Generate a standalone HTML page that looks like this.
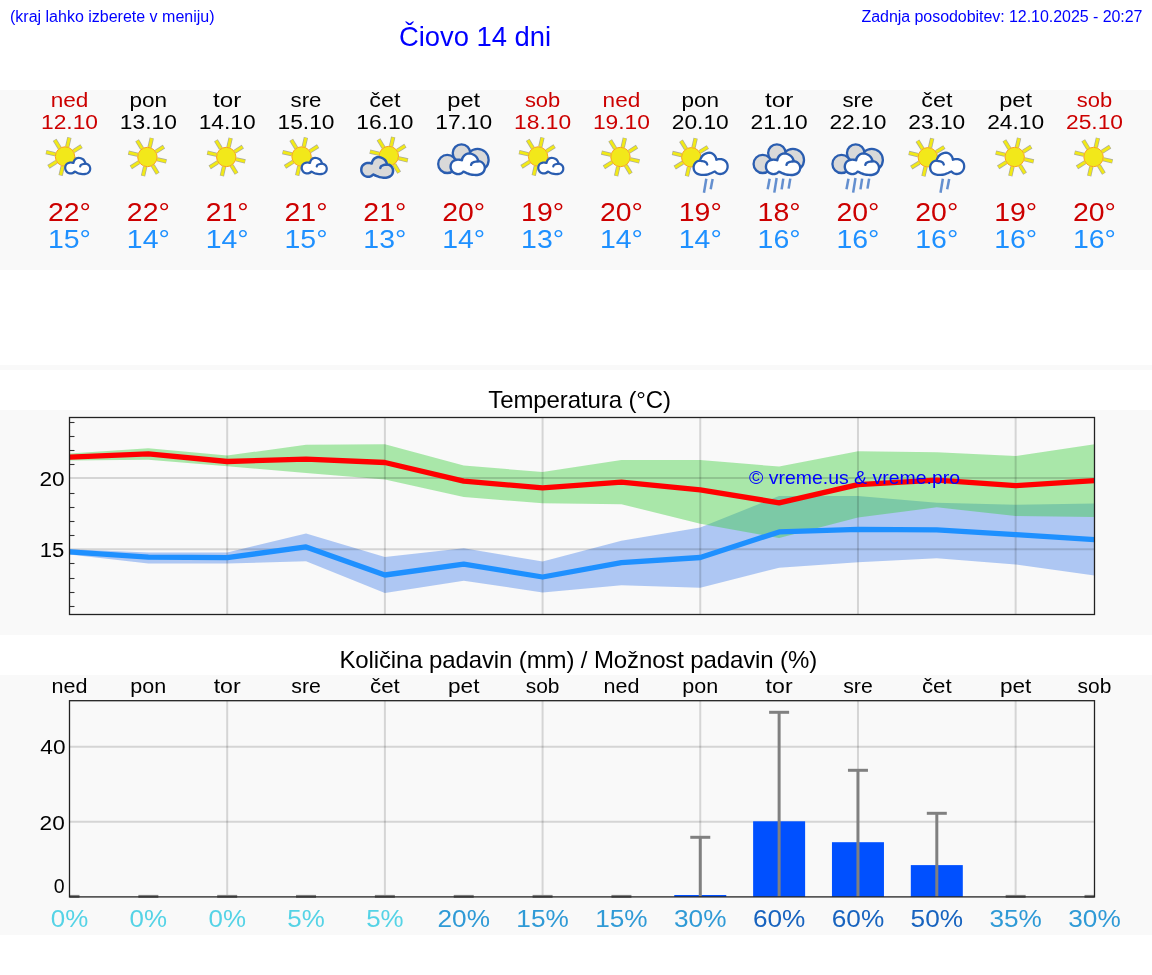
<!DOCTYPE html><html><head><meta charset="utf-8"><title>Čiovo 14 dni</title><style>
html,body{margin:0;padding:0;background:#fff;width:1152px;height:975px;overflow:hidden;font-family:"Liberation Sans",sans-serif}
svg{position:absolute;left:0;top:0;display:block;will-change:transform}
</style></head><body>
<svg width="1152" height="975" viewBox="0 0 1152 975" font-family="Liberation Sans, sans-serif">
<rect x="0" y="90" width="1152" height="180" fill="#f9f9f9"/>
<rect x="0" y="365" width="1152" height="5" fill="#f9f9f9"/>
<rect x="0" y="410" width="1152" height="225" fill="#f9f9f9"/>
<rect x="0" y="675" width="1152" height="260" fill="#f9f9f9"/>
<text x="10" y="21.5" font-size="16" fill="#0000ff">(kraj lahko izberete v meniju)</text>
<text x="399" y="45.7" font-size="27.4" fill="#0000ff" textLength="152" lengthAdjust="spacing">Čiovo 14 dni</text>
<text x="1142.5" y="21.5" font-size="16" fill="#0000ff" text-anchor="end" textLength="281" lengthAdjust="spacing">Zadnja posodobitev: 12.10.2025 - 20:27</text>
<text x="69.50" y="106.8" font-size="20.5" fill="#cc0000" text-anchor="middle" textLength="37.68" lengthAdjust="spacingAndGlyphs">ned</text>
<text x="69.50" y="128.6" font-size="20.5" fill="#cc0000" text-anchor="middle" textLength="57" lengthAdjust="spacingAndGlyphs">12.10</text>
<line x1="74.74" y1="158.75" x2="84.00" y2="160.89" stroke="#8c8c70" stroke-opacity="0.7" stroke-width="4.3"/><line x1="70.30" y1="164.98" x2="75.33" y2="173.04" stroke="#8c8c70" stroke-opacity="0.7" stroke-width="4.3"/><line x1="62.75" y1="166.24" x2="60.61" y2="175.50" stroke="#8c8c70" stroke-opacity="0.7" stroke-width="4.3"/><line x1="56.52" y1="161.80" x2="48.46" y2="166.83" stroke="#8c8c70" stroke-opacity="0.7" stroke-width="4.3"/><line x1="55.26" y1="154.25" x2="46.00" y2="152.11" stroke="#8c8c70" stroke-opacity="0.7" stroke-width="4.3"/><line x1="59.70" y1="148.02" x2="54.67" y2="139.96" stroke="#8c8c70" stroke-opacity="0.7" stroke-width="4.3"/><line x1="67.25" y1="146.76" x2="69.39" y2="137.50" stroke="#8c8c70" stroke-opacity="0.7" stroke-width="4.3"/><line x1="73.48" y1="151.20" x2="81.54" y2="146.17" stroke="#8c8c70" stroke-opacity="0.7" stroke-width="4.3"/><line x1="74.74" y1="158.75" x2="83.61" y2="160.80" stroke="#f2ea16" stroke-width="2.8"/><line x1="70.30" y1="164.98" x2="75.12" y2="172.70" stroke="#f2ea16" stroke-width="2.8"/><line x1="62.75" y1="166.24" x2="60.70" y2="175.11" stroke="#f2ea16" stroke-width="2.8"/><line x1="56.52" y1="161.80" x2="48.80" y2="166.62" stroke="#f2ea16" stroke-width="2.8"/><line x1="55.26" y1="154.25" x2="46.39" y2="152.20" stroke="#f2ea16" stroke-width="2.8"/><line x1="59.70" y1="148.02" x2="54.88" y2="140.30" stroke="#f2ea16" stroke-width="2.8"/><line x1="67.25" y1="146.76" x2="69.30" y2="137.89" stroke="#f2ea16" stroke-width="2.8"/><line x1="73.48" y1="151.20" x2="81.20" y2="146.38" stroke="#f2ea16" stroke-width="2.8"/><circle cx="65.00" cy="156.50" r="9.70" fill="#f2e81a" stroke="#f7a41c" stroke-width="1"/><path d="M74.64,171.58C74.29,171.83 73.37,172.81 72.56,173.11C71.75,173.41 70.66,173.53 69.78,173.39C68.90,173.25 67.97,172.84 67.28,172.28C66.59,171.72 65.96,170.85 65.61,170.06C65.26,169.27 65.14,168.39 65.19,167.56C65.24,166.73 65.50,165.75 65.89,165.06C66.28,164.37 66.91,163.81 67.56,163.39C68.21,162.97 69.04,162.69 69.78,162.56C70.52,162.43 71.38,162.53 72.00,162.60C72.62,162.67 73.25,162.93 73.50,163.00C73.57,162.69 73.63,161.80 73.94,161.17C74.25,160.54 74.73,159.75 75.33,159.22C75.93,158.69 76.82,158.18 77.56,157.97C78.30,157.76 79.04,157.83 79.78,157.97C80.52,158.11 81.31,158.42 82.00,158.81C82.69,159.20 83.43,159.75 83.94,160.33C84.45,160.91 84.81,161.72 85.06,162.28C85.31,162.84 85.40,163.44 85.47,163.67C85.72,163.71 86.47,163.71 87.00,163.94C87.53,164.17 88.18,164.55 88.67,165.06C89.16,165.57 89.67,166.31 89.92,167.00C90.17,167.69 90.26,168.48 90.19,169.22C90.12,169.96 89.89,170.79 89.50,171.44C89.11,172.09 88.48,172.69 87.83,173.11C87.18,173.53 86.49,173.78 85.61,173.94C84.73,174.10 83.58,174.12 82.56,174.08C81.54,174.03 80.43,173.90 79.50,173.67C78.57,173.44 77.81,173.04 77.00,172.69C76.19,172.34 75.03,171.76 74.64,171.58Z" fill="#ffffff" stroke="#2a5db0" stroke-width="2.2" stroke-linejoin="round"/><path d="M80.19,166.44C80.31,166.21 80.50,165.43 80.89,165.06C81.28,164.69 82.00,164.41 82.56,164.22C83.12,164.03 83.73,164.03 84.22,163.94C84.70,163.85 85.26,163.71 85.47,163.67" fill="none" stroke="#2a5db0" stroke-width="2.2" stroke-linecap="round"/>
<text x="69.50" y="221.3" font-size="25" fill="#cc0000" text-anchor="middle" textLength="43" lengthAdjust="spacingAndGlyphs">22°</text>
<text x="69.50" y="248.3" font-size="25" fill="#1e90ff" text-anchor="middle" textLength="43" lengthAdjust="spacingAndGlyphs">15°</text>
<text x="148.35" y="106.8" font-size="20.5" fill="#000" text-anchor="middle" textLength="37.61" lengthAdjust="spacingAndGlyphs">pon</text>
<text x="148.35" y="128.6" font-size="20.5" fill="#000" text-anchor="middle" textLength="57" lengthAdjust="spacingAndGlyphs">13.10</text>
<line x1="157.14" y1="159.25" x2="166.40" y2="161.39" stroke="#8c8c70" stroke-opacity="0.7" stroke-width="4.3"/><line x1="152.70" y1="165.48" x2="157.73" y2="173.54" stroke="#8c8c70" stroke-opacity="0.7" stroke-width="4.3"/><line x1="145.15" y1="166.74" x2="143.01" y2="176.00" stroke="#8c8c70" stroke-opacity="0.7" stroke-width="4.3"/><line x1="138.92" y1="162.30" x2="130.86" y2="167.33" stroke="#8c8c70" stroke-opacity="0.7" stroke-width="4.3"/><line x1="137.65" y1="154.75" x2="128.40" y2="152.61" stroke="#8c8c70" stroke-opacity="0.7" stroke-width="4.3"/><line x1="142.10" y1="148.52" x2="137.06" y2="140.46" stroke="#8c8c70" stroke-opacity="0.7" stroke-width="4.3"/><line x1="149.65" y1="147.26" x2="151.78" y2="138.00" stroke="#8c8c70" stroke-opacity="0.7" stroke-width="4.3"/><line x1="155.88" y1="151.70" x2="163.93" y2="146.67" stroke="#8c8c70" stroke-opacity="0.7" stroke-width="4.3"/><line x1="157.14" y1="159.25" x2="166.01" y2="161.30" stroke="#f2ea16" stroke-width="2.8"/><line x1="152.70" y1="165.48" x2="157.52" y2="173.20" stroke="#f2ea16" stroke-width="2.8"/><line x1="145.15" y1="166.74" x2="143.10" y2="175.61" stroke="#f2ea16" stroke-width="2.8"/><line x1="138.92" y1="162.30" x2="131.20" y2="167.12" stroke="#f2ea16" stroke-width="2.8"/><line x1="137.65" y1="154.75" x2="128.79" y2="152.70" stroke="#f2ea16" stroke-width="2.8"/><line x1="142.10" y1="148.52" x2="137.27" y2="140.80" stroke="#f2ea16" stroke-width="2.8"/><line x1="149.65" y1="147.26" x2="151.69" y2="138.39" stroke="#f2ea16" stroke-width="2.8"/><line x1="155.88" y1="151.70" x2="163.59" y2="146.88" stroke="#f2ea16" stroke-width="2.8"/><circle cx="147.40" cy="157.00" r="9.70" fill="#f2e81a" stroke="#f7a41c" stroke-width="1"/>
<text x="148.35" y="221.3" font-size="25" fill="#cc0000" text-anchor="middle" textLength="43" lengthAdjust="spacingAndGlyphs">22°</text>
<text x="148.35" y="248.3" font-size="25" fill="#1e90ff" text-anchor="middle" textLength="43" lengthAdjust="spacingAndGlyphs">14°</text>
<text x="227.19" y="106.8" font-size="20.5" fill="#000" text-anchor="middle" textLength="28.30" lengthAdjust="spacingAndGlyphs">tor</text>
<text x="227.19" y="128.6" font-size="20.5" fill="#000" text-anchor="middle" textLength="57" lengthAdjust="spacingAndGlyphs">14.10</text>
<line x1="235.99" y1="159.25" x2="245.24" y2="161.39" stroke="#8c8c70" stroke-opacity="0.7" stroke-width="4.3"/><line x1="231.54" y1="165.48" x2="236.58" y2="173.54" stroke="#8c8c70" stroke-opacity="0.7" stroke-width="4.3"/><line x1="223.99" y1="166.74" x2="221.86" y2="176.00" stroke="#8c8c70" stroke-opacity="0.7" stroke-width="4.3"/><line x1="217.76" y1="162.30" x2="209.71" y2="167.33" stroke="#8c8c70" stroke-opacity="0.7" stroke-width="4.3"/><line x1="216.50" y1="154.75" x2="207.24" y2="152.61" stroke="#8c8c70" stroke-opacity="0.7" stroke-width="4.3"/><line x1="220.94" y1="148.52" x2="215.91" y2="140.46" stroke="#8c8c70" stroke-opacity="0.7" stroke-width="4.3"/><line x1="228.49" y1="147.26" x2="230.63" y2="138.00" stroke="#8c8c70" stroke-opacity="0.7" stroke-width="4.3"/><line x1="234.72" y1="151.70" x2="242.78" y2="146.67" stroke="#8c8c70" stroke-opacity="0.7" stroke-width="4.3"/><line x1="235.99" y1="159.25" x2="244.85" y2="161.30" stroke="#f2ea16" stroke-width="2.8"/><line x1="231.54" y1="165.48" x2="236.36" y2="173.20" stroke="#f2ea16" stroke-width="2.8"/><line x1="223.99" y1="166.74" x2="221.95" y2="175.61" stroke="#f2ea16" stroke-width="2.8"/><line x1="217.76" y1="162.30" x2="210.04" y2="167.12" stroke="#f2ea16" stroke-width="2.8"/><line x1="216.50" y1="154.75" x2="207.63" y2="152.70" stroke="#f2ea16" stroke-width="2.8"/><line x1="220.94" y1="148.52" x2="216.12" y2="140.80" stroke="#f2ea16" stroke-width="2.8"/><line x1="228.49" y1="147.26" x2="230.54" y2="138.39" stroke="#f2ea16" stroke-width="2.8"/><line x1="234.72" y1="151.70" x2="242.44" y2="146.88" stroke="#f2ea16" stroke-width="2.8"/><circle cx="226.24" cy="157.00" r="9.70" fill="#f2e81a" stroke="#f7a41c" stroke-width="1"/>
<text x="227.19" y="221.3" font-size="25" fill="#cc0000" text-anchor="middle" textLength="43" lengthAdjust="spacingAndGlyphs">21°</text>
<text x="227.19" y="248.3" font-size="25" fill="#1e90ff" text-anchor="middle" textLength="43" lengthAdjust="spacingAndGlyphs">14°</text>
<text x="306.04" y="106.8" font-size="20.5" fill="#000" text-anchor="middle" textLength="30.95" lengthAdjust="spacingAndGlyphs">sre</text>
<text x="306.04" y="128.6" font-size="20.5" fill="#000" text-anchor="middle" textLength="57" lengthAdjust="spacingAndGlyphs">15.10</text>
<line x1="311.28" y1="158.75" x2="320.54" y2="160.89" stroke="#8c8c70" stroke-opacity="0.7" stroke-width="4.3"/><line x1="306.84" y1="164.98" x2="311.87" y2="173.04" stroke="#8c8c70" stroke-opacity="0.7" stroke-width="4.3"/><line x1="299.29" y1="166.24" x2="297.15" y2="175.50" stroke="#8c8c70" stroke-opacity="0.7" stroke-width="4.3"/><line x1="293.06" y1="161.80" x2="285.00" y2="166.83" stroke="#8c8c70" stroke-opacity="0.7" stroke-width="4.3"/><line x1="291.79" y1="154.25" x2="282.54" y2="152.11" stroke="#8c8c70" stroke-opacity="0.7" stroke-width="4.3"/><line x1="296.24" y1="148.02" x2="291.21" y2="139.96" stroke="#8c8c70" stroke-opacity="0.7" stroke-width="4.3"/><line x1="303.79" y1="146.76" x2="305.93" y2="137.50" stroke="#8c8c70" stroke-opacity="0.7" stroke-width="4.3"/><line x1="310.02" y1="151.20" x2="318.08" y2="146.17" stroke="#8c8c70" stroke-opacity="0.7" stroke-width="4.3"/><line x1="311.28" y1="158.75" x2="320.15" y2="160.80" stroke="#f2ea16" stroke-width="2.8"/><line x1="306.84" y1="164.98" x2="311.66" y2="172.70" stroke="#f2ea16" stroke-width="2.8"/><line x1="299.29" y1="166.24" x2="297.24" y2="175.11" stroke="#f2ea16" stroke-width="2.8"/><line x1="293.06" y1="161.80" x2="285.34" y2="166.62" stroke="#f2ea16" stroke-width="2.8"/><line x1="291.79" y1="154.25" x2="282.93" y2="152.20" stroke="#f2ea16" stroke-width="2.8"/><line x1="296.24" y1="148.02" x2="291.42" y2="140.30" stroke="#f2ea16" stroke-width="2.8"/><line x1="303.79" y1="146.76" x2="305.84" y2="137.89" stroke="#f2ea16" stroke-width="2.8"/><line x1="310.02" y1="151.20" x2="317.74" y2="146.38" stroke="#f2ea16" stroke-width="2.8"/><circle cx="301.54" cy="156.50" r="9.70" fill="#f2e81a" stroke="#f7a41c" stroke-width="1"/><path d="M311.18,171.58C310.83,171.83 309.91,172.81 309.10,173.11C308.29,173.41 307.20,173.53 306.32,173.39C305.44,173.25 304.51,172.84 303.82,172.28C303.12,171.72 302.50,170.85 302.15,170.06C301.80,169.27 301.68,168.39 301.73,167.56C301.78,166.73 302.03,165.75 302.43,165.06C302.82,164.37 303.45,163.81 304.10,163.39C304.75,162.97 305.58,162.69 306.32,162.56C307.06,162.43 307.92,162.53 308.54,162.60C309.16,162.67 309.79,162.93 310.04,163.00C310.11,162.69 310.17,161.80 310.48,161.17C310.78,160.54 311.27,159.75 311.87,159.22C312.47,158.69 313.36,158.18 314.10,157.97C314.84,157.76 315.58,157.83 316.32,157.97C317.06,158.11 317.85,158.42 318.54,158.81C319.23,159.20 319.97,159.75 320.48,160.33C320.99,160.91 321.34,161.72 321.60,162.28C321.85,162.84 321.94,163.44 322.01,163.67C322.26,163.71 323.01,163.71 323.54,163.94C324.07,164.17 324.72,164.55 325.21,165.06C325.70,165.57 326.21,166.31 326.46,167.00C326.71,167.69 326.80,168.48 326.73,169.22C326.66,169.96 326.43,170.79 326.04,171.44C325.65,172.09 325.02,172.69 324.37,173.11C323.72,173.53 323.03,173.78 322.15,173.94C321.27,174.10 320.12,174.12 319.10,174.08C318.08,174.03 316.97,173.90 316.04,173.67C315.11,173.44 314.35,173.04 313.54,172.69C312.73,172.34 311.57,171.76 311.18,171.58Z" fill="#ffffff" stroke="#2a5db0" stroke-width="2.2" stroke-linejoin="round"/><path d="M316.73,166.44C316.85,166.21 317.03,165.43 317.43,165.06C317.82,164.69 318.54,164.41 319.10,164.22C319.65,164.03 320.27,164.03 320.76,163.94C321.24,163.85 321.80,163.71 322.01,163.67" fill="none" stroke="#2a5db0" stroke-width="2.2" stroke-linecap="round"/>
<text x="306.04" y="221.3" font-size="25" fill="#cc0000" text-anchor="middle" textLength="43" lengthAdjust="spacingAndGlyphs">21°</text>
<text x="306.04" y="248.3" font-size="25" fill="#1e90ff" text-anchor="middle" textLength="43" lengthAdjust="spacingAndGlyphs">15°</text>
<text x="384.88" y="106.8" font-size="20.5" fill="#000" text-anchor="middle" textLength="31.14" lengthAdjust="spacingAndGlyphs">čet</text>
<text x="384.88" y="128.6" font-size="20.5" fill="#000" text-anchor="middle" textLength="57" lengthAdjust="spacingAndGlyphs">16.10</text>
<line x1="398.58" y1="158.25" x2="407.83" y2="160.39" stroke="#8c8c70" stroke-opacity="0.7" stroke-width="4.3"/><line x1="394.13" y1="164.48" x2="399.17" y2="172.54" stroke="#8c8c70" stroke-opacity="0.7" stroke-width="4.3"/><line x1="386.59" y1="165.74" x2="384.45" y2="175.00" stroke="#8c8c70" stroke-opacity="0.7" stroke-width="4.3"/><line x1="380.35" y1="161.30" x2="372.30" y2="166.33" stroke="#8c8c70" stroke-opacity="0.7" stroke-width="4.3"/><line x1="379.09" y1="153.75" x2="369.83" y2="151.61" stroke="#8c8c70" stroke-opacity="0.7" stroke-width="4.3"/><line x1="383.54" y1="147.52" x2="378.50" y2="139.46" stroke="#8c8c70" stroke-opacity="0.7" stroke-width="4.3"/><line x1="391.08" y1="146.26" x2="393.22" y2="137.00" stroke="#8c8c70" stroke-opacity="0.7" stroke-width="4.3"/><line x1="397.32" y1="150.70" x2="405.37" y2="145.67" stroke="#8c8c70" stroke-opacity="0.7" stroke-width="4.3"/><line x1="398.58" y1="158.25" x2="407.45" y2="160.30" stroke="#f2ea16" stroke-width="2.8"/><line x1="394.13" y1="164.48" x2="398.96" y2="172.20" stroke="#f2ea16" stroke-width="2.8"/><line x1="386.59" y1="165.74" x2="384.54" y2="174.61" stroke="#f2ea16" stroke-width="2.8"/><line x1="380.35" y1="161.30" x2="372.64" y2="166.12" stroke="#f2ea16" stroke-width="2.8"/><line x1="379.09" y1="153.75" x2="370.22" y2="151.70" stroke="#f2ea16" stroke-width="2.8"/><line x1="383.54" y1="147.52" x2="378.71" y2="139.80" stroke="#f2ea16" stroke-width="2.8"/><line x1="391.08" y1="146.26" x2="393.13" y2="137.39" stroke="#f2ea16" stroke-width="2.8"/><line x1="397.32" y1="150.70" x2="405.03" y2="145.88" stroke="#f2ea16" stroke-width="2.8"/><circle cx="388.83" cy="156.00" r="9.70" fill="#f2e81a" stroke="#f7a41c" stroke-width="1"/><path d="M373.29,174.47C372.85,174.79 371.67,176.03 370.65,176.41C369.62,176.79 368.23,176.94 367.12,176.77C366.00,176.59 364.82,176.06 363.94,175.36C363.06,174.65 362.26,173.54 361.82,172.54C361.38,171.54 361.23,170.42 361.29,169.36C361.35,168.30 361.67,167.07 362.17,166.19C362.68,165.30 363.47,164.59 364.30,164.07C365.12,163.54 366.18,163.18 367.12,163.01C368.06,162.84 369.15,162.97 369.93,163.06C370.72,163.16 371.52,163.49 371.84,163.57C371.93,163.18 372.01,162.05 372.40,161.25C372.79,160.45 373.40,159.45 374.16,158.77C374.93,158.09 376.05,157.45 377.00,157.18C377.94,156.92 378.88,157.00 379.82,157.18C380.76,157.36 381.75,157.75 382.63,158.25C383.52,158.75 384.45,159.44 385.10,160.18C385.75,160.91 386.20,161.95 386.52,162.66C386.84,163.36 386.95,164.13 387.04,164.42C387.37,164.48 388.31,164.47 388.98,164.76C389.66,165.06 390.49,165.54 391.11,166.19C391.72,166.83 392.37,167.77 392.69,168.65C393.01,169.53 393.12,170.53 393.04,171.47C392.95,172.41 392.66,173.47 392.16,174.29C391.66,175.11 390.86,175.88 390.04,176.41C389.22,176.94 388.33,177.26 387.22,177.46C386.10,177.67 384.64,177.70 383.35,177.64C382.05,177.58 380.64,177.42 379.46,177.12C378.28,176.83 377.31,176.32 376.28,175.88C375.26,175.43 373.79,174.70 373.29,174.47Z" fill="#d9d9d9" stroke="#2a5db0" stroke-width="2.5" stroke-linejoin="round"/><path d="M380.34,167.94C380.48,167.65 380.72,166.66 381.22,166.19C381.73,165.72 382.64,165.36 383.35,165.12C384.05,164.88 384.84,164.88 385.45,164.76C386.07,164.65 386.78,164.48 387.04,164.42" fill="none" stroke="#2a5db0" stroke-width="2.5" stroke-linecap="round"/>
<text x="384.88" y="221.3" font-size="25" fill="#cc0000" text-anchor="middle" textLength="43" lengthAdjust="spacingAndGlyphs">21°</text>
<text x="384.88" y="248.3" font-size="25" fill="#1e90ff" text-anchor="middle" textLength="43" lengthAdjust="spacingAndGlyphs">13°</text>
<text x="463.73" y="106.8" font-size="20.5" fill="#000" text-anchor="middle" textLength="32.84" lengthAdjust="spacingAndGlyphs">pet</text>
<text x="463.73" y="128.6" font-size="20.5" fill="#000" text-anchor="middle" textLength="57" lengthAdjust="spacingAndGlyphs">17.10</text>
<circle cx="477.53" cy="159.90" r="11.10" fill="#d9d9d9" stroke="#2a5db0" stroke-width="2.3"/><circle cx="447.28" cy="163.90" r="9.10" fill="#d9d9d9" stroke="#2a5db0" stroke-width="2.3"/><circle cx="461.48" cy="153.10" r="8.75" fill="#d9d9d9" stroke="#2a5db0" stroke-width="2.3"/><path d="M463.50,171.61C463.02,171.94 461.76,173.23 460.65,173.63C459.54,174.02 458.04,174.18 456.84,173.99C455.63,173.81 454.37,173.26 453.41,172.53C452.46,171.80 451.60,170.64 451.13,169.60C450.65,168.56 450.49,167.40 450.55,166.30C450.62,165.20 450.97,163.92 451.51,163.00C452.05,162.08 452.91,161.34 453.80,160.79C454.69,160.24 455.83,159.87 456.84,159.70C457.85,159.53 459.03,159.66 459.88,159.75C460.73,159.85 461.59,160.19 461.94,160.28C462.04,159.88 462.12,158.70 462.54,157.86C462.96,157.03 463.62,155.99 464.44,155.29C465.27,154.59 466.48,153.92 467.50,153.64C468.51,153.37 469.53,153.46 470.54,153.64C471.55,153.83 472.63,154.23 473.58,154.75C474.53,155.27 475.54,155.99 476.24,156.76C476.94,157.52 477.42,158.59 477.77,159.33C478.12,160.06 478.24,160.86 478.33,161.16C478.68,161.22 479.70,161.21 480.43,161.52C481.16,161.83 482.05,162.33 482.72,163.00C483.39,163.67 484.08,164.64 484.43,165.56C484.78,166.48 484.90,167.51 484.80,168.49C484.71,169.47 484.39,170.56 483.86,171.42C483.32,172.28 482.46,173.08 481.57,173.63C480.68,174.18 479.73,174.51 478.53,174.72C477.32,174.93 475.74,174.97 474.35,174.91C472.95,174.85 471.43,174.67 470.16,174.36C468.89,174.06 467.84,173.53 466.73,173.07C465.62,172.61 464.04,171.85 463.50,171.61Z" fill="#ffffff" stroke="#2a5db0" stroke-width="2.4" stroke-linejoin="round"/><path d="M471.10,164.82C471.26,164.52 471.52,163.49 472.06,163.00C472.60,162.51 473.59,162.14 474.35,161.89C475.11,161.64 475.96,161.64 476.62,161.52C477.29,161.40 478.05,161.22 478.33,161.16" fill="none" stroke="#2a5db0" stroke-width="2.4" stroke-linecap="round"/>
<text x="463.73" y="221.3" font-size="25" fill="#cc0000" text-anchor="middle" textLength="43" lengthAdjust="spacingAndGlyphs">20°</text>
<text x="463.73" y="248.3" font-size="25" fill="#1e90ff" text-anchor="middle" textLength="43" lengthAdjust="spacingAndGlyphs">14°</text>
<text x="542.58" y="106.8" font-size="20.5" fill="#cc0000" text-anchor="middle" textLength="35.35" lengthAdjust="spacingAndGlyphs">sob</text>
<text x="542.58" y="128.6" font-size="20.5" fill="#cc0000" text-anchor="middle" textLength="57" lengthAdjust="spacingAndGlyphs">18.10</text>
<line x1="547.82" y1="158.75" x2="557.08" y2="160.89" stroke="#8c8c70" stroke-opacity="0.7" stroke-width="4.3"/><line x1="543.38" y1="164.98" x2="548.41" y2="173.04" stroke="#8c8c70" stroke-opacity="0.7" stroke-width="4.3"/><line x1="535.83" y1="166.24" x2="533.69" y2="175.50" stroke="#8c8c70" stroke-opacity="0.7" stroke-width="4.3"/><line x1="529.60" y1="161.80" x2="521.54" y2="166.83" stroke="#8c8c70" stroke-opacity="0.7" stroke-width="4.3"/><line x1="528.33" y1="154.25" x2="519.08" y2="152.11" stroke="#8c8c70" stroke-opacity="0.7" stroke-width="4.3"/><line x1="532.78" y1="148.02" x2="527.74" y2="139.96" stroke="#8c8c70" stroke-opacity="0.7" stroke-width="4.3"/><line x1="540.33" y1="146.76" x2="542.46" y2="137.50" stroke="#8c8c70" stroke-opacity="0.7" stroke-width="4.3"/><line x1="546.56" y1="151.20" x2="554.61" y2="146.17" stroke="#8c8c70" stroke-opacity="0.7" stroke-width="4.3"/><line x1="547.82" y1="158.75" x2="556.69" y2="160.80" stroke="#f2ea16" stroke-width="2.8"/><line x1="543.38" y1="164.98" x2="548.20" y2="172.70" stroke="#f2ea16" stroke-width="2.8"/><line x1="535.83" y1="166.24" x2="533.78" y2="175.11" stroke="#f2ea16" stroke-width="2.8"/><line x1="529.60" y1="161.80" x2="521.88" y2="166.62" stroke="#f2ea16" stroke-width="2.8"/><line x1="528.33" y1="154.25" x2="519.47" y2="152.20" stroke="#f2ea16" stroke-width="2.8"/><line x1="532.78" y1="148.02" x2="527.96" y2="140.30" stroke="#f2ea16" stroke-width="2.8"/><line x1="540.33" y1="146.76" x2="542.37" y2="137.89" stroke="#f2ea16" stroke-width="2.8"/><line x1="546.56" y1="151.20" x2="554.27" y2="146.38" stroke="#f2ea16" stroke-width="2.8"/><circle cx="538.08" cy="156.50" r="9.70" fill="#f2e81a" stroke="#f7a41c" stroke-width="1"/><path d="M547.72,171.58C547.37,171.83 546.45,172.81 545.64,173.11C544.83,173.41 543.74,173.53 542.86,173.39C541.98,173.25 541.05,172.84 540.36,172.28C539.66,171.72 539.04,170.85 538.69,170.06C538.34,169.27 538.22,168.39 538.27,167.56C538.31,166.73 538.57,165.75 538.97,165.06C539.36,164.37 539.99,163.81 540.64,163.39C541.29,162.97 542.12,162.69 542.86,162.56C543.60,162.43 544.46,162.53 545.08,162.60C545.70,162.67 546.33,162.93 546.58,163.00C546.65,162.69 546.71,161.80 547.02,161.17C547.32,160.54 547.80,159.75 548.41,159.22C549.01,158.69 549.90,158.18 550.64,157.97C551.38,157.76 552.12,157.83 552.86,157.97C553.60,158.11 554.38,158.42 555.08,158.81C555.77,159.20 556.51,159.75 557.02,160.33C557.53,160.91 557.88,161.72 558.14,162.28C558.39,162.84 558.48,163.44 558.55,163.67C558.80,163.71 559.54,163.71 560.08,163.94C560.61,164.17 561.26,164.55 561.75,165.06C562.23,165.57 562.74,166.31 563.00,167.00C563.25,167.69 563.34,168.48 563.27,169.22C563.20,169.96 562.97,170.79 562.58,171.44C562.18,172.09 561.56,172.69 560.91,173.11C560.26,173.53 559.57,173.78 558.69,173.94C557.81,174.10 556.66,174.12 555.64,174.08C554.62,174.03 553.50,173.90 552.58,173.67C551.65,173.44 550.89,173.04 550.08,172.69C549.27,172.34 548.11,171.76 547.72,171.58Z" fill="#ffffff" stroke="#2a5db0" stroke-width="2.2" stroke-linejoin="round"/><path d="M553.27,166.44C553.38,166.21 553.57,165.43 553.97,165.06C554.36,164.69 555.08,164.41 555.64,164.22C556.19,164.03 556.81,164.03 557.30,163.94C557.78,163.85 558.34,163.71 558.55,163.67" fill="none" stroke="#2a5db0" stroke-width="2.2" stroke-linecap="round"/>
<text x="542.58" y="221.3" font-size="25" fill="#cc0000" text-anchor="middle" textLength="43" lengthAdjust="spacingAndGlyphs">19°</text>
<text x="542.58" y="248.3" font-size="25" fill="#1e90ff" text-anchor="middle" textLength="43" lengthAdjust="spacingAndGlyphs">13°</text>
<text x="621.42" y="106.8" font-size="20.5" fill="#cc0000" text-anchor="middle" textLength="37.68" lengthAdjust="spacingAndGlyphs">ned</text>
<text x="621.42" y="128.6" font-size="20.5" fill="#cc0000" text-anchor="middle" textLength="57" lengthAdjust="spacingAndGlyphs">19.10</text>
<line x1="630.22" y1="159.25" x2="639.47" y2="161.39" stroke="#8c8c70" stroke-opacity="0.7" stroke-width="4.3"/><line x1="625.77" y1="165.48" x2="630.81" y2="173.54" stroke="#8c8c70" stroke-opacity="0.7" stroke-width="4.3"/><line x1="618.22" y1="166.74" x2="616.09" y2="176.00" stroke="#8c8c70" stroke-opacity="0.7" stroke-width="4.3"/><line x1="611.99" y1="162.30" x2="603.94" y2="167.33" stroke="#8c8c70" stroke-opacity="0.7" stroke-width="4.3"/><line x1="610.73" y1="154.75" x2="601.47" y2="152.61" stroke="#8c8c70" stroke-opacity="0.7" stroke-width="4.3"/><line x1="615.17" y1="148.52" x2="610.14" y2="140.46" stroke="#8c8c70" stroke-opacity="0.7" stroke-width="4.3"/><line x1="622.72" y1="147.26" x2="624.86" y2="138.00" stroke="#8c8c70" stroke-opacity="0.7" stroke-width="4.3"/><line x1="628.95" y1="151.70" x2="637.01" y2="146.67" stroke="#8c8c70" stroke-opacity="0.7" stroke-width="4.3"/><line x1="630.22" y1="159.25" x2="639.08" y2="161.30" stroke="#f2ea16" stroke-width="2.8"/><line x1="625.77" y1="165.48" x2="630.59" y2="173.20" stroke="#f2ea16" stroke-width="2.8"/><line x1="618.22" y1="166.74" x2="616.18" y2="175.61" stroke="#f2ea16" stroke-width="2.8"/><line x1="611.99" y1="162.30" x2="604.28" y2="167.12" stroke="#f2ea16" stroke-width="2.8"/><line x1="610.73" y1="154.75" x2="601.86" y2="152.70" stroke="#f2ea16" stroke-width="2.8"/><line x1="615.17" y1="148.52" x2="610.35" y2="140.80" stroke="#f2ea16" stroke-width="2.8"/><line x1="622.72" y1="147.26" x2="624.77" y2="138.39" stroke="#f2ea16" stroke-width="2.8"/><line x1="628.95" y1="151.70" x2="636.67" y2="146.88" stroke="#f2ea16" stroke-width="2.8"/><circle cx="620.47" cy="157.00" r="9.70" fill="#f2e81a" stroke="#f7a41c" stroke-width="1"/>
<text x="621.42" y="221.3" font-size="25" fill="#cc0000" text-anchor="middle" textLength="43" lengthAdjust="spacingAndGlyphs">20°</text>
<text x="621.42" y="248.3" font-size="25" fill="#1e90ff" text-anchor="middle" textLength="43" lengthAdjust="spacingAndGlyphs">14°</text>
<text x="700.27" y="106.8" font-size="20.5" fill="#000" text-anchor="middle" textLength="37.61" lengthAdjust="spacingAndGlyphs">pon</text>
<text x="700.27" y="128.6" font-size="20.5" fill="#000" text-anchor="middle" textLength="57" lengthAdjust="spacingAndGlyphs">20.10</text>
<line x1="701.01" y1="159.55" x2="710.27" y2="161.69" stroke="#8c8c70" stroke-opacity="0.7" stroke-width="4.3"/><line x1="696.57" y1="165.78" x2="701.60" y2="173.84" stroke="#8c8c70" stroke-opacity="0.7" stroke-width="4.3"/><line x1="689.02" y1="167.04" x2="686.88" y2="176.30" stroke="#8c8c70" stroke-opacity="0.7" stroke-width="4.3"/><line x1="682.79" y1="162.60" x2="674.73" y2="167.63" stroke="#8c8c70" stroke-opacity="0.7" stroke-width="4.3"/><line x1="681.53" y1="155.05" x2="672.27" y2="152.91" stroke="#8c8c70" stroke-opacity="0.7" stroke-width="4.3"/><line x1="685.97" y1="148.82" x2="680.94" y2="140.76" stroke="#8c8c70" stroke-opacity="0.7" stroke-width="4.3"/><line x1="693.52" y1="147.56" x2="695.66" y2="138.30" stroke="#8c8c70" stroke-opacity="0.7" stroke-width="4.3"/><line x1="699.75" y1="152.00" x2="707.81" y2="146.97" stroke="#8c8c70" stroke-opacity="0.7" stroke-width="4.3"/><line x1="701.01" y1="159.55" x2="709.88" y2="161.60" stroke="#f2ea16" stroke-width="2.8"/><line x1="696.57" y1="165.78" x2="701.39" y2="173.50" stroke="#f2ea16" stroke-width="2.8"/><line x1="689.02" y1="167.04" x2="686.97" y2="175.91" stroke="#f2ea16" stroke-width="2.8"/><line x1="682.79" y1="162.60" x2="675.07" y2="167.42" stroke="#f2ea16" stroke-width="2.8"/><line x1="681.53" y1="155.05" x2="672.66" y2="153.00" stroke="#f2ea16" stroke-width="2.8"/><line x1="685.97" y1="148.82" x2="681.15" y2="141.10" stroke="#f2ea16" stroke-width="2.8"/><line x1="693.52" y1="147.56" x2="695.57" y2="138.69" stroke="#f2ea16" stroke-width="2.8"/><line x1="699.75" y1="152.00" x2="707.47" y2="147.18" stroke="#f2ea16" stroke-width="2.8"/><circle cx="691.27" cy="157.30" r="9.70" fill="#f2e81a" stroke="#f7a41c" stroke-width="1"/><path d="M714.78,171.43C715.25,171.78 716.51,173.10 717.61,173.51C718.71,173.92 720.19,174.08 721.39,173.89C722.59,173.70 723.84,173.14 724.79,172.38C725.73,171.63 726.59,170.43 727.06,169.36C727.53,168.29 727.69,167.09 727.63,165.96C727.57,164.83 727.22,163.51 726.68,162.56C726.14,161.62 725.29,160.86 724.41,160.29C723.53,159.72 722.39,159.34 721.39,159.16C720.38,158.98 719.21,159.12 718.37,159.22C717.53,159.32 716.67,159.67 716.33,159.76C716.23,159.35 716.15,158.13 715.73,157.27C715.32,156.41 714.66,155.34 713.84,154.62C713.02,153.89 711.82,153.20 710.81,152.92C709.80,152.64 708.79,152.73 707.79,152.92C706.78,153.11 705.71,153.53 704.77,154.06C703.83,154.60 702.82,155.34 702.13,156.13C701.44,156.92 700.95,158.02 700.61,158.78C700.26,159.54 700.14,160.36 700.05,160.67C699.70,160.73 698.69,160.72 697.97,161.04C697.24,161.35 696.36,161.87 695.70,162.56C695.04,163.26 694.34,164.26 694.00,165.20C693.65,166.14 693.54,167.21 693.63,168.22C693.73,169.23 694.03,170.36 694.57,171.24C695.10,172.12 695.96,172.94 696.84,173.51C697.72,174.08 698.67,174.42 699.86,174.64C701.05,174.86 702.62,174.89 704.01,174.83C705.39,174.77 706.91,174.59 708.17,174.27C709.43,173.96 710.47,173.41 711.57,172.94C712.67,172.46 714.24,171.68 714.78,171.43Z" fill="#ffffff" stroke="#2a5db0" stroke-width="2.3" stroke-linejoin="round"/><path d="M707.23,164.44C707.07,164.13 706.82,163.06 706.28,162.56C705.74,162.06 704.76,161.67 704.01,161.42C703.25,161.17 702.41,161.16 701.75,161.04C701.09,160.91 700.33,160.73 700.05,160.67" fill="none" stroke="#2a5db0" stroke-width="2.3" stroke-linecap="round"/><line x1="706.30" y1="178.67" x2="703.97" y2="192.67" stroke="#4a7cc8" stroke-width="2.5" stroke-opacity="0.85"/><line x1="712.64" y1="179.00" x2="710.64" y2="189.33" stroke="#4a7cc8" stroke-width="2.5" stroke-opacity="0.85"/>
<text x="700.27" y="221.3" font-size="25" fill="#cc0000" text-anchor="middle" textLength="43" lengthAdjust="spacingAndGlyphs">19°</text>
<text x="700.27" y="248.3" font-size="25" fill="#1e90ff" text-anchor="middle" textLength="43" lengthAdjust="spacingAndGlyphs">14°</text>
<text x="779.12" y="106.8" font-size="20.5" fill="#000" text-anchor="middle" textLength="28.30" lengthAdjust="spacingAndGlyphs">tor</text>
<text x="779.12" y="128.6" font-size="20.5" fill="#000" text-anchor="middle" textLength="57" lengthAdjust="spacingAndGlyphs">21.10</text>
<circle cx="792.92" cy="159.90" r="11.10" fill="#d9d9d9" stroke="#2a5db0" stroke-width="2.3"/><circle cx="762.67" cy="163.90" r="9.10" fill="#d9d9d9" stroke="#2a5db0" stroke-width="2.3"/><circle cx="776.87" cy="153.10" r="8.75" fill="#d9d9d9" stroke="#2a5db0" stroke-width="2.3"/><path d="M778.88,171.61C778.41,171.94 777.14,173.23 776.03,173.63C774.92,174.02 773.43,174.18 772.22,173.99C771.02,173.81 769.75,173.26 768.80,172.53C767.85,171.80 766.99,170.64 766.51,169.60C766.03,168.56 765.87,167.40 765.94,166.30C766.00,165.20 766.35,163.92 766.89,163.00C767.44,162.08 768.29,161.34 769.18,160.79C770.07,160.24 771.21,159.87 772.22,159.70C773.24,159.53 774.42,159.66 775.27,159.75C776.11,159.85 776.98,160.19 777.32,160.28C777.42,159.88 777.51,158.70 777.92,157.86C778.34,157.03 779.00,155.99 779.83,155.29C780.65,154.59 781.87,153.92 782.88,153.64C783.90,153.37 784.91,153.46 785.92,153.64C786.94,153.83 788.02,154.23 788.97,154.75C789.92,155.27 790.92,155.99 791.62,156.76C792.32,157.52 792.81,158.59 793.16,159.33C793.51,160.06 793.63,160.86 793.72,161.16C794.07,161.22 795.08,161.21 795.82,161.52C796.55,161.83 797.44,162.33 798.10,163.00C798.77,163.67 799.47,164.64 799.82,165.56C800.16,166.48 800.28,167.51 800.19,168.49C800.09,169.47 799.78,170.56 799.24,171.42C798.70,172.28 797.84,173.08 796.95,173.63C796.06,174.18 795.11,174.51 793.91,174.72C792.71,174.93 791.13,174.97 789.73,174.91C788.34,174.85 786.81,174.67 785.54,174.36C784.27,174.06 783.23,173.53 782.12,173.07C781.01,172.61 779.42,171.85 778.88,171.61Z" fill="#ffffff" stroke="#2a5db0" stroke-width="2.4" stroke-linejoin="round"/><path d="M786.49,164.82C786.65,164.52 786.90,163.49 787.44,163.00C787.99,162.51 788.97,162.14 789.73,161.89C790.49,161.64 791.34,161.64 792.01,161.52C792.67,161.40 793.43,161.22 793.72,161.16" fill="none" stroke="#2a5db0" stroke-width="2.4" stroke-linecap="round"/><line x1="769.64" y1="178.67" x2="767.64" y2="189.33" stroke="#4a7cc8" stroke-width="2.5" stroke-opacity="0.85"/><line x1="776.64" y1="178.00" x2="774.30" y2="192.67" stroke="#4a7cc8" stroke-width="2.5" stroke-opacity="0.85"/><line x1="783.30" y1="178.67" x2="781.64" y2="189.33" stroke="#4a7cc8" stroke-width="2.5" stroke-opacity="0.85"/><line x1="790.30" y1="178.67" x2="788.64" y2="188.67" stroke="#4a7cc8" stroke-width="2.5" stroke-opacity="0.85"/>
<text x="779.12" y="221.3" font-size="25" fill="#cc0000" text-anchor="middle" textLength="43" lengthAdjust="spacingAndGlyphs">18°</text>
<text x="779.12" y="248.3" font-size="25" fill="#1e90ff" text-anchor="middle" textLength="43" lengthAdjust="spacingAndGlyphs">16°</text>
<text x="857.96" y="106.8" font-size="20.5" fill="#000" text-anchor="middle" textLength="30.95" lengthAdjust="spacingAndGlyphs">sre</text>
<text x="857.96" y="128.6" font-size="20.5" fill="#000" text-anchor="middle" textLength="57" lengthAdjust="spacingAndGlyphs">22.10</text>
<circle cx="871.76" cy="159.90" r="11.10" fill="#d9d9d9" stroke="#2a5db0" stroke-width="2.3"/><circle cx="841.51" cy="163.90" r="9.10" fill="#d9d9d9" stroke="#2a5db0" stroke-width="2.3"/><circle cx="855.71" cy="153.10" r="8.75" fill="#d9d9d9" stroke="#2a5db0" stroke-width="2.3"/><path d="M857.73,171.61C857.25,171.94 855.99,173.23 854.88,173.63C853.77,174.02 852.28,174.18 851.07,173.99C849.86,173.81 848.60,173.26 847.65,172.53C846.69,171.80 845.83,170.64 845.36,169.60C844.88,168.56 844.72,167.40 844.78,166.30C844.85,165.20 845.20,163.92 845.74,163.00C846.28,162.08 847.14,161.34 848.03,160.79C848.92,160.24 850.06,159.87 851.07,159.70C852.08,159.53 853.26,159.66 854.11,159.75C854.96,159.85 855.82,160.19 856.17,160.28C856.27,159.88 856.35,158.70 856.77,157.86C857.19,157.03 857.85,155.99 858.67,155.29C859.50,154.59 860.71,153.92 861.73,153.64C862.74,153.37 863.76,153.46 864.77,153.64C865.78,153.83 866.86,154.23 867.81,154.75C868.76,155.27 869.77,155.99 870.47,156.76C871.17,157.52 871.65,158.59 872.00,159.33C872.35,160.06 872.47,160.86 872.57,161.16C872.91,161.22 873.93,161.21 874.66,161.52C875.39,161.83 876.28,162.33 876.95,163.00C877.62,163.67 878.31,164.64 878.66,165.56C879.01,166.48 879.13,167.51 879.03,168.49C878.94,169.47 878.63,170.56 878.09,171.42C877.55,172.28 876.69,173.08 875.80,173.63C874.91,174.18 873.96,174.51 872.76,174.72C871.55,174.93 869.97,174.97 868.58,174.91C867.18,174.85 865.66,174.67 864.39,174.36C863.12,174.06 862.07,173.53 860.96,173.07C859.85,172.61 858.27,171.85 857.73,171.61Z" fill="#ffffff" stroke="#2a5db0" stroke-width="2.4" stroke-linejoin="round"/><path d="M865.33,164.82C865.49,164.52 865.75,163.49 866.29,163.00C866.83,162.51 867.82,162.14 868.58,161.89C869.34,161.64 870.19,161.64 870.85,161.52C871.52,161.40 872.28,161.22 872.57,161.16" fill="none" stroke="#2a5db0" stroke-width="2.4" stroke-linecap="round"/><line x1="848.48" y1="178.67" x2="846.48" y2="189.33" stroke="#4a7cc8" stroke-width="2.5" stroke-opacity="0.85"/><line x1="855.48" y1="178.00" x2="853.14" y2="192.67" stroke="#4a7cc8" stroke-width="2.5" stroke-opacity="0.85"/><line x1="862.14" y1="178.67" x2="860.48" y2="189.33" stroke="#4a7cc8" stroke-width="2.5" stroke-opacity="0.85"/><line x1="869.14" y1="178.67" x2="867.48" y2="188.67" stroke="#4a7cc8" stroke-width="2.5" stroke-opacity="0.85"/>
<text x="857.96" y="221.3" font-size="25" fill="#cc0000" text-anchor="middle" textLength="43" lengthAdjust="spacingAndGlyphs">20°</text>
<text x="857.96" y="248.3" font-size="25" fill="#1e90ff" text-anchor="middle" textLength="43" lengthAdjust="spacingAndGlyphs">16°</text>
<text x="936.81" y="106.8" font-size="20.5" fill="#000" text-anchor="middle" textLength="31.14" lengthAdjust="spacingAndGlyphs">čet</text>
<text x="936.81" y="128.6" font-size="20.5" fill="#000" text-anchor="middle" textLength="57" lengthAdjust="spacingAndGlyphs">23.10</text>
<line x1="937.55" y1="159.55" x2="946.81" y2="161.69" stroke="#8c8c70" stroke-opacity="0.7" stroke-width="4.3"/><line x1="933.11" y1="165.78" x2="938.14" y2="173.84" stroke="#8c8c70" stroke-opacity="0.7" stroke-width="4.3"/><line x1="925.56" y1="167.04" x2="923.42" y2="176.30" stroke="#8c8c70" stroke-opacity="0.7" stroke-width="4.3"/><line x1="919.33" y1="162.60" x2="911.27" y2="167.63" stroke="#8c8c70" stroke-opacity="0.7" stroke-width="4.3"/><line x1="918.06" y1="155.05" x2="908.81" y2="152.91" stroke="#8c8c70" stroke-opacity="0.7" stroke-width="4.3"/><line x1="922.51" y1="148.82" x2="917.47" y2="140.76" stroke="#8c8c70" stroke-opacity="0.7" stroke-width="4.3"/><line x1="930.06" y1="147.56" x2="932.19" y2="138.30" stroke="#8c8c70" stroke-opacity="0.7" stroke-width="4.3"/><line x1="936.29" y1="152.00" x2="944.34" y2="146.97" stroke="#8c8c70" stroke-opacity="0.7" stroke-width="4.3"/><line x1="937.55" y1="159.55" x2="946.42" y2="161.60" stroke="#f2ea16" stroke-width="2.8"/><line x1="933.11" y1="165.78" x2="937.93" y2="173.50" stroke="#f2ea16" stroke-width="2.8"/><line x1="925.56" y1="167.04" x2="923.51" y2="175.91" stroke="#f2ea16" stroke-width="2.8"/><line x1="919.33" y1="162.60" x2="911.61" y2="167.42" stroke="#f2ea16" stroke-width="2.8"/><line x1="918.06" y1="155.05" x2="909.20" y2="153.00" stroke="#f2ea16" stroke-width="2.8"/><line x1="922.51" y1="148.82" x2="917.69" y2="141.10" stroke="#f2ea16" stroke-width="2.8"/><line x1="930.06" y1="147.56" x2="932.10" y2="138.69" stroke="#f2ea16" stroke-width="2.8"/><line x1="936.29" y1="152.00" x2="944.01" y2="147.18" stroke="#f2ea16" stroke-width="2.8"/><circle cx="927.81" cy="157.30" r="9.70" fill="#f2e81a" stroke="#f7a41c" stroke-width="1"/><path d="M951.32,171.43C951.79,171.78 953.04,173.10 954.15,173.51C955.25,173.92 956.73,174.08 957.93,173.89C959.12,173.70 960.38,173.14 961.33,172.38C962.27,171.63 963.12,170.43 963.60,169.36C964.07,168.29 964.23,167.09 964.17,165.96C964.11,164.83 963.75,163.51 963.22,162.56C962.68,161.62 961.83,160.86 960.95,160.29C960.06,159.72 958.93,159.34 957.93,159.16C956.92,158.98 955.75,159.12 954.91,159.22C954.06,159.32 953.21,159.67 952.87,159.76C952.77,159.35 952.68,158.13 952.27,157.27C951.85,156.41 951.20,155.34 950.38,154.62C949.56,153.89 948.35,153.20 947.35,152.92C946.34,152.64 945.33,152.73 944.33,152.92C943.32,153.11 942.25,153.53 941.31,154.06C940.36,154.60 939.36,155.34 938.67,156.13C937.98,156.92 937.49,158.02 937.15,158.78C936.80,159.54 936.68,160.36 936.59,160.67C936.24,160.73 935.23,160.72 934.51,161.04C933.78,161.35 932.90,161.87 932.24,162.56C931.57,163.26 930.88,164.26 930.54,165.20C930.19,166.14 930.07,167.21 930.17,168.22C930.26,169.23 930.57,170.36 931.11,171.24C931.64,172.12 932.50,172.94 933.38,173.51C934.26,174.08 935.20,174.42 936.40,174.64C937.59,174.86 939.16,174.89 940.55,174.83C941.93,174.77 943.45,174.59 944.71,174.27C945.97,173.96 947.01,173.41 948.11,172.94C949.21,172.46 950.78,171.68 951.32,171.43Z" fill="#ffffff" stroke="#2a5db0" stroke-width="2.3" stroke-linejoin="round"/><path d="M943.77,164.44C943.61,164.13 943.35,163.06 942.82,162.56C942.28,162.06 941.30,161.67 940.55,161.42C939.79,161.17 938.95,161.16 938.29,161.04C937.63,160.91 936.87,160.73 936.59,160.67" fill="none" stroke="#2a5db0" stroke-width="2.3" stroke-linecap="round"/><line x1="942.84" y1="178.67" x2="940.51" y2="192.67" stroke="#4a7cc8" stroke-width="2.5" stroke-opacity="0.85"/><line x1="949.18" y1="179.00" x2="947.18" y2="189.33" stroke="#4a7cc8" stroke-width="2.5" stroke-opacity="0.85"/>
<text x="936.81" y="221.3" font-size="25" fill="#cc0000" text-anchor="middle" textLength="43" lengthAdjust="spacingAndGlyphs">20°</text>
<text x="936.81" y="248.3" font-size="25" fill="#1e90ff" text-anchor="middle" textLength="43" lengthAdjust="spacingAndGlyphs">16°</text>
<text x="1015.65" y="106.8" font-size="20.5" fill="#000" text-anchor="middle" textLength="32.84" lengthAdjust="spacingAndGlyphs">pet</text>
<text x="1015.65" y="128.6" font-size="20.5" fill="#000" text-anchor="middle" textLength="57" lengthAdjust="spacingAndGlyphs">24.10</text>
<line x1="1024.45" y1="159.25" x2="1033.70" y2="161.39" stroke="#8c8c70" stroke-opacity="0.7" stroke-width="4.3"/><line x1="1020.00" y1="165.48" x2="1025.04" y2="173.54" stroke="#8c8c70" stroke-opacity="0.7" stroke-width="4.3"/><line x1="1012.45" y1="166.74" x2="1010.32" y2="176.00" stroke="#8c8c70" stroke-opacity="0.7" stroke-width="4.3"/><line x1="1006.22" y1="162.30" x2="998.17" y2="167.33" stroke="#8c8c70" stroke-opacity="0.7" stroke-width="4.3"/><line x1="1004.96" y1="154.75" x2="995.70" y2="152.61" stroke="#8c8c70" stroke-opacity="0.7" stroke-width="4.3"/><line x1="1009.40" y1="148.52" x2="1004.37" y2="140.46" stroke="#8c8c70" stroke-opacity="0.7" stroke-width="4.3"/><line x1="1016.95" y1="147.26" x2="1019.09" y2="138.00" stroke="#8c8c70" stroke-opacity="0.7" stroke-width="4.3"/><line x1="1023.18" y1="151.70" x2="1031.24" y2="146.67" stroke="#8c8c70" stroke-opacity="0.7" stroke-width="4.3"/><line x1="1024.45" y1="159.25" x2="1033.31" y2="161.30" stroke="#f2ea16" stroke-width="2.8"/><line x1="1020.00" y1="165.48" x2="1024.83" y2="173.20" stroke="#f2ea16" stroke-width="2.8"/><line x1="1012.45" y1="166.74" x2="1010.41" y2="175.61" stroke="#f2ea16" stroke-width="2.8"/><line x1="1006.22" y1="162.30" x2="998.51" y2="167.12" stroke="#f2ea16" stroke-width="2.8"/><line x1="1004.96" y1="154.75" x2="996.09" y2="152.70" stroke="#f2ea16" stroke-width="2.8"/><line x1="1009.40" y1="148.52" x2="1004.58" y2="140.80" stroke="#f2ea16" stroke-width="2.8"/><line x1="1016.95" y1="147.26" x2="1019.00" y2="138.39" stroke="#f2ea16" stroke-width="2.8"/><line x1="1023.18" y1="151.70" x2="1030.90" y2="146.88" stroke="#f2ea16" stroke-width="2.8"/><circle cx="1014.70" cy="157.00" r="9.70" fill="#f2e81a" stroke="#f7a41c" stroke-width="1"/>
<text x="1015.65" y="221.3" font-size="25" fill="#cc0000" text-anchor="middle" textLength="43" lengthAdjust="spacingAndGlyphs">19°</text>
<text x="1015.65" y="248.3" font-size="25" fill="#1e90ff" text-anchor="middle" textLength="43" lengthAdjust="spacingAndGlyphs">16°</text>
<text x="1094.50" y="106.8" font-size="20.5" fill="#cc0000" text-anchor="middle" textLength="35.35" lengthAdjust="spacingAndGlyphs">sob</text>
<text x="1094.50" y="128.6" font-size="20.5" fill="#cc0000" text-anchor="middle" textLength="57" lengthAdjust="spacingAndGlyphs">25.10</text>
<line x1="1103.29" y1="159.25" x2="1112.55" y2="161.39" stroke="#8c8c70" stroke-opacity="0.7" stroke-width="4.3"/><line x1="1098.85" y1="165.48" x2="1103.88" y2="173.54" stroke="#8c8c70" stroke-opacity="0.7" stroke-width="4.3"/><line x1="1091.30" y1="166.74" x2="1089.16" y2="176.00" stroke="#8c8c70" stroke-opacity="0.7" stroke-width="4.3"/><line x1="1085.07" y1="162.30" x2="1077.01" y2="167.33" stroke="#8c8c70" stroke-opacity="0.7" stroke-width="4.3"/><line x1="1083.81" y1="154.75" x2="1074.55" y2="152.61" stroke="#8c8c70" stroke-opacity="0.7" stroke-width="4.3"/><line x1="1088.25" y1="148.52" x2="1083.22" y2="140.46" stroke="#8c8c70" stroke-opacity="0.7" stroke-width="4.3"/><line x1="1095.80" y1="147.26" x2="1097.94" y2="138.00" stroke="#8c8c70" stroke-opacity="0.7" stroke-width="4.3"/><line x1="1102.03" y1="151.70" x2="1110.09" y2="146.67" stroke="#8c8c70" stroke-opacity="0.7" stroke-width="4.3"/><line x1="1103.29" y1="159.25" x2="1112.16" y2="161.30" stroke="#f2ea16" stroke-width="2.8"/><line x1="1098.85" y1="165.48" x2="1103.67" y2="173.20" stroke="#f2ea16" stroke-width="2.8"/><line x1="1091.30" y1="166.74" x2="1089.25" y2="175.61" stroke="#f2ea16" stroke-width="2.8"/><line x1="1085.07" y1="162.30" x2="1077.35" y2="167.12" stroke="#f2ea16" stroke-width="2.8"/><line x1="1083.81" y1="154.75" x2="1074.94" y2="152.70" stroke="#f2ea16" stroke-width="2.8"/><line x1="1088.25" y1="148.52" x2="1083.43" y2="140.80" stroke="#f2ea16" stroke-width="2.8"/><line x1="1095.80" y1="147.26" x2="1097.85" y2="138.39" stroke="#f2ea16" stroke-width="2.8"/><line x1="1102.03" y1="151.70" x2="1109.75" y2="146.88" stroke="#f2ea16" stroke-width="2.8"/><circle cx="1093.55" cy="157.00" r="9.70" fill="#f2e81a" stroke="#f7a41c" stroke-width="1"/>
<text x="1094.50" y="221.3" font-size="25" fill="#cc0000" text-anchor="middle" textLength="43" lengthAdjust="spacingAndGlyphs">20°</text>
<text x="1094.50" y="248.3" font-size="25" fill="#1e90ff" text-anchor="middle" textLength="43" lengthAdjust="spacingAndGlyphs">16°</text>
<text x="579.7" y="407.8" font-size="24" fill="#000" text-anchor="middle" textLength="182.7" lengthAdjust="spacing">Temperatura (°C)</text>
<polygon points="69.50,549.30 148.35,552.40 227.19,552.40 306.04,533.50 384.88,557.10 463.73,548.30 542.58,561.60 621.42,540.70 700.27,527.40 779.12,496.00 857.96,496.00 936.81,502.80 1015.65,504.80 1094.50,503.60 1094.50,575.60 1015.65,564.40 936.81,558.20 857.96,562.20 779.12,567.80 700.27,587.70 621.42,585.20 542.58,592.40 463.73,580.70 384.88,593.00 306.04,561.20 227.19,563.50 148.35,563.50 69.50,554.40" fill="#6495ed" fill-opacity="0.5"/>
<polygon points="69.50,453.50 148.35,448.20 227.19,455.60 306.04,444.70 384.88,444.30 463.73,465.60 542.58,472.00 621.42,460.10 700.27,460.10 779.12,466.60 857.96,451.30 936.81,452.30 1015.65,456.00 1094.50,444.30 1094.50,517.10 1015.65,516.10 936.81,507.30 857.96,517.50 779.12,538.00 700.27,523.70 621.42,504.20 542.58,503.20 463.73,497.00 384.88,479.60 306.04,473.00 227.19,466.20 148.35,459.70 69.50,460.50" fill="#32cd32" fill-opacity="0.4"/>
<line x1="227.19" y1="417.5" x2="227.19" y2="614.5" stroke="#000" stroke-opacity="0.145" stroke-width="2"/>
<line x1="384.88" y1="417.5" x2="384.88" y2="614.5" stroke="#000" stroke-opacity="0.145" stroke-width="2"/>
<line x1="542.58" y1="417.5" x2="542.58" y2="614.5" stroke="#000" stroke-opacity="0.145" stroke-width="2"/>
<line x1="700.27" y1="417.5" x2="700.27" y2="614.5" stroke="#000" stroke-opacity="0.145" stroke-width="2"/>
<line x1="857.96" y1="417.5" x2="857.96" y2="614.5" stroke="#000" stroke-opacity="0.145" stroke-width="2"/>
<line x1="1015.65" y1="417.5" x2="1015.65" y2="614.5" stroke="#000" stroke-opacity="0.145" stroke-width="2"/>
<line x1="69.5" y1="549.30" x2="1094.5" y2="549.30" stroke="#000" stroke-opacity="0.145" stroke-width="2"/>
<line x1="69.5" y1="477.90" x2="1094.5" y2="477.90" stroke="#000" stroke-opacity="0.145" stroke-width="2"/>
<polyline points="69.50,457.20 148.35,453.90 227.19,461.50 306.04,459.10 384.88,462.50 463.73,481.20 542.58,487.80 621.42,482.20 700.27,489.80 779.12,502.80 857.96,484.70 936.81,480.20 1015.65,485.70 1094.50,480.60" fill="none" stroke="#ff0000" stroke-width="5.3" stroke-linejoin="round"/>
<polyline points="69.50,551.80 148.35,557.10 227.19,557.70 306.04,546.90 384.88,575.00 463.73,564.10 542.58,577.00 621.42,562.70 700.27,557.50 779.12,531.90 857.96,529.40 936.81,529.80 1015.65,534.60 1094.50,539.70" fill="none" stroke="#1e90ff" stroke-width="5.3" stroke-linejoin="round"/>
<line x1="69.5" y1="606.50" x2="74.5" y2="606.50" stroke="#333" stroke-width="1.1"/>
<line x1="69.5" y1="592.50" x2="74.5" y2="592.50" stroke="#333" stroke-width="1.1"/>
<line x1="69.5" y1="578.50" x2="74.5" y2="578.50" stroke="#333" stroke-width="1.1"/>
<line x1="69.5" y1="563.50" x2="74.5" y2="563.50" stroke="#333" stroke-width="1.1"/>
<line x1="69.5" y1="535.50" x2="74.5" y2="535.50" stroke="#333" stroke-width="1.1"/>
<line x1="69.5" y1="521.50" x2="74.5" y2="521.50" stroke="#333" stroke-width="1.1"/>
<line x1="69.5" y1="507.50" x2="74.5" y2="507.50" stroke="#333" stroke-width="1.1"/>
<line x1="69.5" y1="493.50" x2="74.5" y2="493.50" stroke="#333" stroke-width="1.1"/>
<line x1="69.5" y1="464.50" x2="74.5" y2="464.50" stroke="#333" stroke-width="1.1"/>
<line x1="69.5" y1="450.50" x2="74.5" y2="450.50" stroke="#333" stroke-width="1.1"/>
<line x1="69.5" y1="436.50" x2="74.5" y2="436.50" stroke="#333" stroke-width="1.1"/>
<line x1="69.5" y1="422.50" x2="74.5" y2="422.50" stroke="#333" stroke-width="1.1"/>
<rect x="69.5" y="417.5" width="1025.0" height="197.0" fill="none" stroke="#222" stroke-width="1.3"/>
<text x="52.1" y="486.2" font-size="19.5" fill="#000" text-anchor="middle" textLength="25.2" lengthAdjust="spacingAndGlyphs">20</text>
<text x="52.1" y="557.1" font-size="19.5" fill="#000" text-anchor="middle" textLength="24.6" lengthAdjust="spacingAndGlyphs">15</text>
<text x="749" y="483.7" font-size="18.4" fill="#0000ff" textLength="211" lengthAdjust="spacingAndGlyphs">© vreme.us &amp; vreme.pro</text>
<text x="578.3" y="667.6" font-size="24" fill="#000" text-anchor="middle" textLength="477.8" lengthAdjust="spacing">Količina padavin (mm) / Možnost padavin (%)</text>
<text x="69.50" y="692.8" font-size="20.5" fill="#000" text-anchor="middle" textLength="35.98" lengthAdjust="spacingAndGlyphs">ned</text>
<text x="148.35" y="692.8" font-size="20.5" fill="#000" text-anchor="middle" textLength="35.92" lengthAdjust="spacingAndGlyphs">pon</text>
<text x="227.19" y="692.8" font-size="20.5" fill="#000" text-anchor="middle" textLength="27.03" lengthAdjust="spacingAndGlyphs">tor</text>
<text x="306.04" y="692.8" font-size="20.5" fill="#000" text-anchor="middle" textLength="29.55" lengthAdjust="spacingAndGlyphs">sre</text>
<text x="384.88" y="692.8" font-size="20.5" fill="#000" text-anchor="middle" textLength="29.74" lengthAdjust="spacingAndGlyphs">čet</text>
<text x="463.73" y="692.8" font-size="20.5" fill="#000" text-anchor="middle" textLength="31.36" lengthAdjust="spacingAndGlyphs">pet</text>
<text x="542.58" y="692.8" font-size="20.5" fill="#000" text-anchor="middle" textLength="33.76" lengthAdjust="spacingAndGlyphs">sob</text>
<text x="621.42" y="692.8" font-size="20.5" fill="#000" text-anchor="middle" textLength="35.98" lengthAdjust="spacingAndGlyphs">ned</text>
<text x="700.27" y="692.8" font-size="20.5" fill="#000" text-anchor="middle" textLength="35.92" lengthAdjust="spacingAndGlyphs">pon</text>
<text x="779.12" y="692.8" font-size="20.5" fill="#000" text-anchor="middle" textLength="27.03" lengthAdjust="spacingAndGlyphs">tor</text>
<text x="857.96" y="692.8" font-size="20.5" fill="#000" text-anchor="middle" textLength="29.55" lengthAdjust="spacingAndGlyphs">sre</text>
<text x="936.81" y="692.8" font-size="20.5" fill="#000" text-anchor="middle" textLength="29.74" lengthAdjust="spacingAndGlyphs">čet</text>
<text x="1015.65" y="692.8" font-size="20.5" fill="#000" text-anchor="middle" textLength="31.36" lengthAdjust="spacingAndGlyphs">pet</text>
<text x="1094.50" y="692.8" font-size="20.5" fill="#000" text-anchor="middle" textLength="33.76" lengthAdjust="spacingAndGlyphs">sob</text>
<line x1="227.19" y1="700.7" x2="227.19" y2="896.9" stroke="#000" stroke-opacity="0.145" stroke-width="2"/>
<line x1="384.88" y1="700.7" x2="384.88" y2="896.9" stroke="#000" stroke-opacity="0.145" stroke-width="2"/>
<line x1="542.58" y1="700.7" x2="542.58" y2="896.9" stroke="#000" stroke-opacity="0.145" stroke-width="2"/>
<line x1="700.27" y1="700.7" x2="700.27" y2="896.9" stroke="#000" stroke-opacity="0.145" stroke-width="2"/>
<line x1="857.96" y1="700.7" x2="857.96" y2="896.9" stroke="#000" stroke-opacity="0.145" stroke-width="2"/>
<line x1="1015.65" y1="700.7" x2="1015.65" y2="896.9" stroke="#000" stroke-opacity="0.145" stroke-width="2"/>
<line x1="69.5" y1="821.70" x2="1094.5" y2="821.70" stroke="#000" stroke-opacity="0.145" stroke-width="2"/>
<line x1="69.5" y1="746.70" x2="1094.5" y2="746.70" stroke="#000" stroke-opacity="0.145" stroke-width="2"/>
<rect x="674.27" y="895.00" width="52" height="1.90" fill="#0050ff"/>
<rect x="753.12" y="821.30" width="52" height="75.60" fill="#0050ff"/>
<rect x="831.96" y="842.20" width="52" height="54.70" fill="#0050ff"/>
<rect x="910.81" y="865.10" width="52" height="31.80" fill="#0050ff"/>
<line x1="69.50" y1="896.40" x2="79.50" y2="896.40" stroke="#808080" stroke-width="3"/>
<line x1="138.35" y1="896.40" x2="158.35" y2="896.40" stroke="#808080" stroke-width="3"/>
<line x1="217.19" y1="896.40" x2="237.19" y2="896.40" stroke="#808080" stroke-width="3"/>
<line x1="296.04" y1="896.40" x2="316.04" y2="896.40" stroke="#808080" stroke-width="3"/>
<line x1="374.88" y1="896.40" x2="394.88" y2="896.40" stroke="#808080" stroke-width="3"/>
<line x1="453.73" y1="896.40" x2="473.73" y2="896.40" stroke="#808080" stroke-width="3"/>
<line x1="532.58" y1="896.40" x2="552.58" y2="896.40" stroke="#808080" stroke-width="3"/>
<line x1="611.42" y1="896.40" x2="631.42" y2="896.40" stroke="#808080" stroke-width="3"/>
<line x1="700.27" y1="837.30" x2="700.27" y2="896.90" stroke="#808080" stroke-width="3"/>
<line x1="690.27" y1="837.30" x2="710.27" y2="837.30" stroke="#808080" stroke-width="3"/>
<line x1="779.12" y1="712.30" x2="779.12" y2="896.90" stroke="#808080" stroke-width="3"/>
<line x1="769.12" y1="712.30" x2="789.12" y2="712.30" stroke="#808080" stroke-width="3"/>
<line x1="857.96" y1="770.30" x2="857.96" y2="896.90" stroke="#808080" stroke-width="3"/>
<line x1="847.96" y1="770.30" x2="867.96" y2="770.30" stroke="#808080" stroke-width="3"/>
<line x1="936.81" y1="813.30" x2="936.81" y2="896.90" stroke="#808080" stroke-width="3"/>
<line x1="926.81" y1="813.30" x2="946.81" y2="813.30" stroke="#808080" stroke-width="3"/>
<line x1="1005.65" y1="896.40" x2="1025.65" y2="896.40" stroke="#808080" stroke-width="3"/>
<line x1="1084.50" y1="896.40" x2="1094.50" y2="896.40" stroke="#808080" stroke-width="3"/>
<rect x="69.5" y="700.7" width="1025.0" height="196.19999999999993" fill="none" stroke="#222" stroke-width="1.3"/>
<text x="52.9" y="753.9" font-size="19.5" fill="#000" text-anchor="middle" textLength="25.2" lengthAdjust="spacingAndGlyphs">40</text>
<text x="52.2" y="830.2" font-size="19.5" fill="#000" text-anchor="middle" textLength="25.2" lengthAdjust="spacingAndGlyphs">20</text>
<text x="59.2" y="892.5" font-size="19.5" fill="#000" text-anchor="middle">0</text>
<text x="69.50" y="926.8" font-size="24.6" fill="#55d3e6" text-anchor="middle" textLength="37.44" lengthAdjust="spacingAndGlyphs">0%</text>
<text x="148.35" y="926.8" font-size="24.6" fill="#55d3e6" text-anchor="middle" textLength="37.44" lengthAdjust="spacingAndGlyphs">0%</text>
<text x="227.19" y="926.8" font-size="24.6" fill="#55d3e6" text-anchor="middle" textLength="37.44" lengthAdjust="spacingAndGlyphs">0%</text>
<text x="306.04" y="926.8" font-size="24.6" fill="#55d3e6" text-anchor="middle" textLength="37.44" lengthAdjust="spacingAndGlyphs">5%</text>
<text x="384.88" y="926.8" font-size="24.6" fill="#55d3e6" text-anchor="middle" textLength="37.44" lengthAdjust="spacingAndGlyphs">5%</text>
<text x="463.73" y="926.8" font-size="24.6" fill="#2f9ad6" text-anchor="middle" textLength="52.45" lengthAdjust="spacingAndGlyphs">20%</text>
<text x="542.58" y="926.8" font-size="24.6" fill="#2f9ad6" text-anchor="middle" textLength="52.45" lengthAdjust="spacingAndGlyphs">15%</text>
<text x="621.42" y="926.8" font-size="24.6" fill="#2f9ad6" text-anchor="middle" textLength="52.45" lengthAdjust="spacingAndGlyphs">15%</text>
<text x="700.27" y="926.8" font-size="24.6" fill="#2f9ad6" text-anchor="middle" textLength="52.45" lengthAdjust="spacingAndGlyphs">30%</text>
<text x="779.12" y="926.8" font-size="24.6" fill="#1763bf" text-anchor="middle" textLength="52.45" lengthAdjust="spacingAndGlyphs">60%</text>
<text x="857.96" y="926.8" font-size="24.6" fill="#1763bf" text-anchor="middle" textLength="52.45" lengthAdjust="spacingAndGlyphs">60%</text>
<text x="936.81" y="926.8" font-size="24.6" fill="#1763bf" text-anchor="middle" textLength="52.45" lengthAdjust="spacingAndGlyphs">50%</text>
<text x="1015.65" y="926.8" font-size="24.6" fill="#2f9ad6" text-anchor="middle" textLength="52.45" lengthAdjust="spacingAndGlyphs">35%</text>
<text x="1094.50" y="926.8" font-size="24.6" fill="#2f9ad6" text-anchor="middle" textLength="52.45" lengthAdjust="spacingAndGlyphs">30%</text>
</svg></body></html>
